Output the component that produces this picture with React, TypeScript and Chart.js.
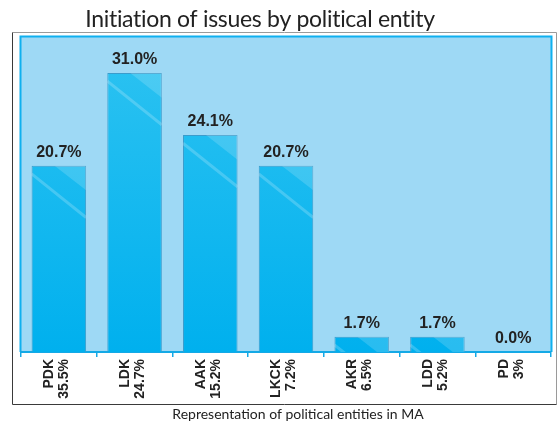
import React, { useEffect, useRef } from "react";
import { Chart, registerables } from "chart.js";

Chart.register(...registerables);

const titleText = "Initiation of issues by political entity";
const axisTitle = "Representation of political entities in MA";
const entities = ["PDK", "LDK", "AAK", "LKCK", "AKR", "LDD", "PD"];
const representation = ["35.5%", "24.7%", "15.2%", "7.2%", "6.5%", "5.2%", "3%"];
const initiationShare = [20.7, 31.0, 24.1, 20.7, 1.7, 1.7, 0.0];
const yMax = 35;

const framePlugin = {
  id: "frame",
  beforeDraw(chart: any) {
    const { ctx, chartArea } = chart;
    ctx.save();
    // outer frame
    ctx.lineWidth = 1;
    ctx.strokeStyle = "#9a9a9a";
    ctx.beginPath();
    ctx.moveTo(12.5, 32.5);
    ctx.lineTo(556.5, 32.5);
    ctx.lineTo(556.5, 404.5);
    ctx.stroke();
    ctx.strokeStyle = "#3a3a3a";
    ctx.beginPath();
    ctx.moveTo(12.5, 32.5);
    ctx.lineTo(12.5, 404.5);
    ctx.lineTo(556.5, 404.5);
    ctx.stroke();
    // plot background
    ctx.fillStyle = "#9ed9f5";
    ctx.fillRect(chartArea.left, chartArea.top, chartArea.right - chartArea.left, chartArea.bottom - chartArea.top);
    ctx.strokeStyle = "#0fb0ef";
    ctx.lineWidth = 2;
    ctx.beginPath();
    ctx.moveTo(chartArea.left - 0.5, chartArea.bottom);
    ctx.lineTo(chartArea.left - 0.5, chartArea.top - 0.5);
    ctx.lineTo(chartArea.right + 0.5, chartArea.top - 0.5);
    ctx.lineTo(chartArea.right + 0.5, chartArea.bottom);
    ctx.stroke();
    // main title
    ctx.fillStyle = "#222222";
    ctx.font = "23px Lato, 'DejaVu Sans', sans-serif";
    (ctx as any).letterSpacing = "-0.3px";
    ctx.textAlign = "center";
    ctx.textBaseline = "alphabetic";
    ctx.fillText(titleText, 260, 27);
    (ctx as any).letterSpacing = "0px";
    ctx.restore();
  },
};

const glossPlugin = {
  id: "gloss",
  afterDatasetsDraw(chart: any) {
    const { ctx } = chart;
    const meta = chart.getDatasetMeta(0);
    ctx.save();
    meta.data.forEach((bar: any) => {
      const w = bar.width;
      const left = bar.x - w / 2;
      const right = bar.x + w / 2;
      const top = bar.y;
      const bottom = bar.base;
      const h = bottom - top;
      if (h < 1) return;
      ctx.save();
      ctx.beginPath();
      ctx.rect(left, top, w, h);
      ctx.clip();
      ctx.fillStyle = "rgba(255,255,255,0.16)";
      ctx.beginPath();
      ctx.moveTo(left + 0.42 * w, top);
      ctx.lineTo(right, top);
      ctx.lineTo(right, top + 0.58 * w * 0.78);
      ctx.closePath();
      ctx.fill();
      ctx.strokeStyle = "rgba(255,255,255,0.2)";
      ctx.lineWidth = 3;
      ctx.beginPath();
      ctx.moveTo(left, top + 0.15 * w);
      ctx.lineTo(right, top + 0.15 * w + 0.8 * w);
      ctx.stroke();
      ctx.restore();
    });
    ctx.restore();
  },
};

const labelPlugin = {
  id: "labels",
  afterDatasetsDraw(chart: any) {
    const { ctx } = chart;
    const meta = chart.getDatasetMeta(0);
    const values = chart.data.datasets[0].data as number[];
    ctx.save();
    ctx.font = "bold 16px 'Liberation Sans', Arial, sans-serif";
    ctx.fillStyle = "#222222";
    ctx.textAlign = "center";
    ctx.textBaseline = "alphabetic";
    meta.data.forEach((bar: any, i: number) => {
      ctx.fillText(values[i].toFixed(1) + "%", bar.x, bar.y - 9);
    });
    ctx.restore();
  },
  afterDraw(chart: any) {
    const { ctx } = chart;
    const xs = chart.scales.x;
    ctx.save();
    ctx.fillStyle = "#222222";
    ctx.font = "bold 14px 'Liberation Sans', Arial, sans-serif";
    ctx.textAlign = "right";
    ctx.textBaseline = "middle";
    entities.forEach((name, i) => {
      const x = xs.getPixelForTick(i);
      ctx.save();
      ctx.translate(x - 2, 359);
      ctx.rotate(-Math.PI / 2);
      ctx.fillText(name, 0, -7.5);
      ctx.fillText(representation[i], 0, 7.5);
      ctx.restore();
    });
    ctx.font = "14px Lato, 'DejaVu Sans', sans-serif";
    ctx.textAlign = "center";
    ctx.textBaseline = "alphabetic";
    ctx.fillText(axisTitle, 298, 419);
    ctx.restore();
  },
};

export default function App() {
  const canvasRef = useRef<HTMLCanvasElement | null>(null);

  useEffect(() => {
    const canvas = canvasRef.current;
    if (!canvas) return;
    const chart = new Chart(canvas, {
      type: "bar",
      data: {
        labels: entities,
        datasets: [
          {
            data: initiationShare,
            backgroundColor: (c: any) => {
              const area = c.chart.chartArea;
              if (!area) return "#0bb4ee";
              const g = c.chart.ctx.createLinearGradient(0, area.top, 0, area.bottom);
              g.addColorStop(0, "#2ec3f1");
              g.addColorStop(1, "#00b0ee");
              return g;
            },
            borderColor: "#3a9ccc",
            borderWidth: 1,
            categoryPercentage: 1,
            barPercentage: 0.72,
          },
        ],
      },
      options: {
        responsive: false,
        animation: false,
        layout: { padding: { left: 21, right: 9, top: 37, bottom: 0 } },
        plugins: {
          legend: { display: false },
          tooltip: { enabled: false },
          title: { display: false },
        },
        scales: {
          y: {
            display: false,
            min: 0,
            max: yMax,
          },
          x: {
            afterFit: (scale: any) => {
              scale.height = 76;
            },
            grid: {
              display: true,
              drawOnChartArea: false,
              drawTicks: true,
              tickLength: 5,
              color: "#14a9e6",
              lineWidth: 1.5,
            },
            border: { display: true, color: "#14a9e6", width: 2 },
            ticks: { display: false },
            title: { display: false },
          },
        },
      },
      plugins: [framePlugin, glossPlugin, labelPlugin],
    } as any);
    return () => chart.destroy();
  }, []);

  return (
    <div style={{ position: "absolute", left: 0, top: 0, width: 560, height: 428, background: "#ffffff" }}>
      <canvas ref={canvasRef} width={560} height={428} style={{ width: 560, height: 428, display: "block" }} />
    </div>
  );
}
